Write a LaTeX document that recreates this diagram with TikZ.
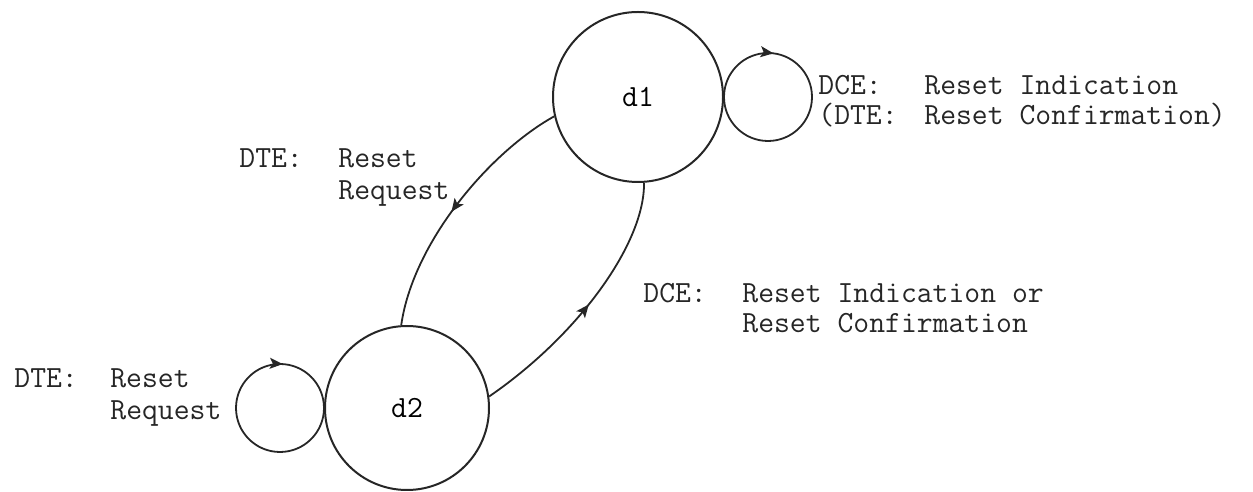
\documentclass[tikz,border=0pt]{standalone}
\usepackage{fontspec}
\usetikzlibrary{arrows.meta,decorations.markings}
\tikzset{
  state/.style={circle,draw,line width=1pt,inner sep=0pt,font=\ttfamily\fontsize{15.4}{15.5}\selectfont},
  edge/.style={draw,line width=0.9pt},
  midarrow/.style={postaction={decorate},decoration={markings,
      mark=at position #1 with {\arrow{Stealth[length=6.5pt,width=5.5pt,inset=1.5pt]}}}},
  lbl/.style={inner sep=0pt,anchor=base west,text=black!85,font=\ttfamily\fontsize{15.4}{16}\selectfont},
  lblmid/.style={lbl,font=\ttfamily\fontsize{15.4}{15}\selectfont},
  lbltight/.style={lbl,font=\ttfamily\fontsize{15.4}{13}\selectfont}
}
\begin{document}
\begin{tikzpicture}[x=0.5pt,y=0.5pt,line join=round,draw=black!85]
\useasboundingbox (0,0) rectangle (1253,492);

% states
\node[state,minimum size=85pt] (d1) at (638,395) {d1};
\node[state,minimum size=82pt] (d2) at (407,84) {d2};

% transitions between the states
\draw[edge,midarrow=0.53] (d1.193) .. controls (490,340) and (413,250) .. (d2.94);
\draw[edge,midarrow=0.5] (d2.8) .. controls (580,158) and (645,250) .. (d1.274);

% self loops
\draw[edge,midarrow=0.27] (d1.east) arc[start angle=180,end angle=-180,radius=22pt];
\draw[edge,midarrow=0.76] (d2.west) arc[start angle=0,end angle=-360,radius=22pt];

% labels
\node[lbltight] (l1) at (818,397) {\begin{tabular}[t]{@{}p{53pt}@{}l@{}}DCE: & Reset Indication\\(DTE: & Reset Confirmation)\end{tabular}};
\node[lbl] (l2) at (239,324) {\begin{tabular}[t]{@{}p{49.5pt}@{}l@{}}DTE: & Reset\\ & Request\end{tabular}};
\node[lblmid] (l3) at (643,189) {\begin{tabular}[t]{@{}p{49.5pt}@{}l@{}}DCE: & Reset Indication or\\ & Reset Confirmation\end{tabular}};
\node[lbl] (l4) at (14,104) {\begin{tabular}[t]{@{}p{48pt}@{}l@{}}DTE: & Reset\\ & Request\end{tabular}};
\end{tikzpicture}
\end{document}
